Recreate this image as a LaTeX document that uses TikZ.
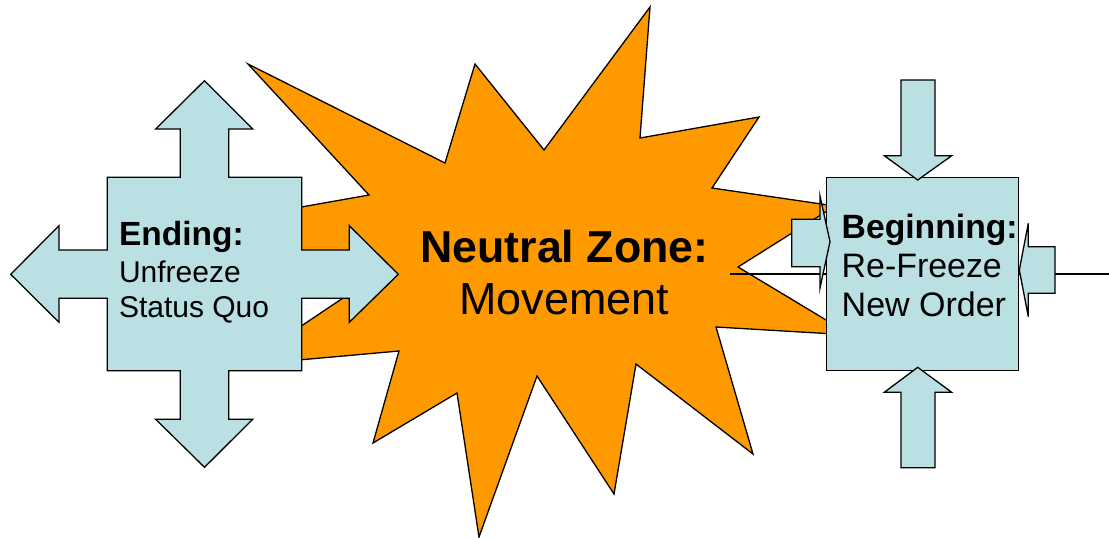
\documentclass[tikz,border=0pt]{standalone}
\usepackage{fontspec}
\setmainfont{Liberation Sans}
\definecolor{paleblue}{HTML}{BBE0E3}
\definecolor{burstorange}{HTML}{FF9900}
\begin{document}
\begin{tikzpicture}[x=1pt,y=-1pt,
  outline/.style={draw=black,line width=1.3pt,line join=miter},
  burst/.style={outline,fill=burstorange},
  paleshape/.style={outline,fill=paleblue},
  txt/.style={anchor=base west,inner sep=0pt,outer sep=0pt},
  ctxt/.style={anchor=base,inner sep=0pt,outer sep=0pt},
  thinline/.style={draw=black,line width=1.3pt}]
\useasboundingbox (0,0) rectangle (1109,538);
% starburst
\draw[burst] (248,64) -- (445,163) -- (475,64) -- (544,150) -- (650,7) -- (640,138)
  -- (759,117) -- (712,188) -- (835,206) -- (738,267) -- (851,335) -- (716,327)
  -- (753,454) -- (636,364) -- (614,494) -- (537,376) -- (479,537) -- (457,393)
  -- (373,443) -- (399,351) -- (243,365) -- (370,280) -- (200,225) -- (369,195) -- cycle;
% horizontal connector line
\coordinate (lineA) at (730,274);
\coordinate (lineB) at (1109,274);
\draw[thinline] (lineA) -- (lineB);
% left four-way arrow
\draw[paleshape] (107.3,177.3) -- (180.3,177.3) -- (180.3,129) -- (155.7,129) -- (204.5,80.7)
  -- (252.7,129) -- (228.7,129) -- (228.7,177.3) -- (301.7,177.3) -- (301.7,250)
  -- (349.3,250) -- (349.3,225.7) -- (398.3,274.3) -- (349.3,322.3) -- (349.3,298.3)
  -- (301.7,298.3) -- (301.7,370.7) -- (228.7,370.7) -- (228.7,419.3) -- (252.7,419.3)
  -- (204.5,467.3) -- (155.7,419.3) -- (180.3,419.3) -- (180.3,370.7) -- (107.3,370.7)
  -- (107.3,298.3) -- (59,298.3) -- (59,322.3) -- (10.7,274.3) -- (59,225.7)
  -- (59,250) -- (107.3,250) -- cycle;
% right box
\draw[paleshape] (826.7,177.3) rectangle (1018.8,370.7);
% arrows around right box
\draw[paleshape] (901,80) -- (935,80) -- (935,155.7) -- (951.7,155.7) -- (917.7,180)
  -- (884.3,155.7) -- (901,155.7) -- cycle;
\draw[paleshape] (901,467.7) -- (935,467.7) -- (935,392.3) -- (951.7,392.3) -- (917.7,367.3)
  -- (884.3,392.3) -- (901,392.3) -- cycle;
\draw[paleshape] (791.7,219.3) -- (820,219.3) -- (820,196) -- (830,241.7) -- (820,288)
  -- (820,266.7) -- (791.7,266.7) -- cycle;
\draw[paleshape] (1055,246.7) -- (1028.3,246.7) -- (1028.3,223.3) -- (1019.3,270)
  -- (1028.3,316.7) -- (1028.3,293.3) -- (1055,293.3) -- cycle;
% texts
\node[txt] (ending) at (119,245.7) {\fontsize{33.5}{40}\selectfont\bfseries Ending:};
\node[txt] (unfreeze) at (119,282.3) {\fontsize{30}{36}\selectfont Unfreeze};
\node[txt] (statusquo) at (119,317.3) {\fontsize{30}{36}\selectfont Status Quo};
\node[ctxt] (neutral) at (564.4,262.5) {\fontsize{44.7}{50}\selectfont\bfseries Neutral Zone:};
\node[ctxt] (movement) at (564.4,314) {\fontsize{44.9}{50}\selectfont Movement};
\node[txt] (beginning) at (841.7,238.3) {\fontsize{33.7}{40}\selectfont\bfseries Beginning:};
\node[txt] (refreeze) at (841.7,277.3) {\fontsize{33.9}{40}\selectfont Re-Freeze};
\node[txt] (neworder) at (841.7,316.7) {\fontsize{34}{40}\selectfont New Order};
\end{tikzpicture}
\end{document}
